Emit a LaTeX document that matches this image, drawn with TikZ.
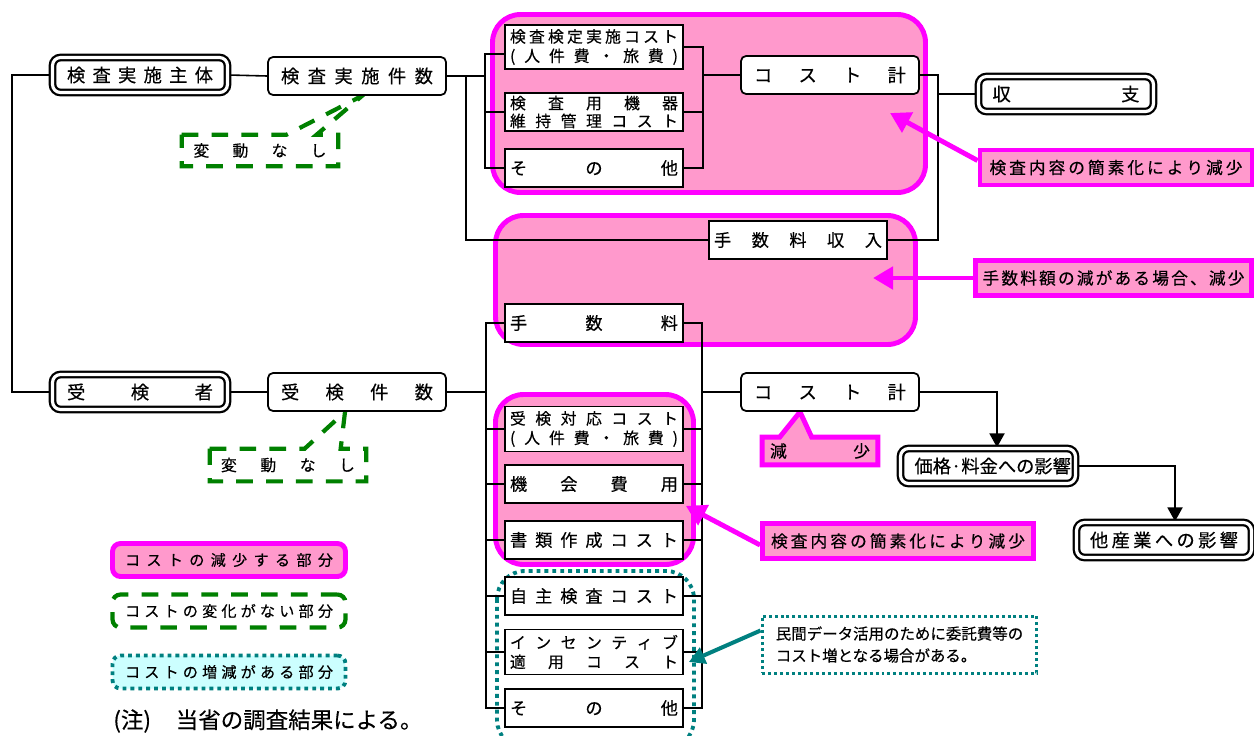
\documentclass[tikz,border=0pt]{standalone}
\usepackage{fontspec}
\setmainfont{Noto Sans CJK JP}[FakeBold=0.4]
\usepackage{tikz}
\usetikzlibrary{arrows.meta,positioning,calc}

\definecolor{cutpink}{HTML}{FF99CC}
\definecolor{cutedge}{HTML}{FF00FF}
\definecolor{samegreen}{HTML}{008000}
\definecolor{mixteal}{HTML}{008080}
\definecolor{mixcyan}{HTML}{CCFFFF}

\pgfdeclarelayer{back}
\pgfsetlayers{back,main}

% letters spread over a fixed width
\makeatletter
\newcommand\spreadtext[2]{\makebox[#1][s]{\spread@loop#2\relax}}
\def\spread@loop#1#2{#1\ifx\relax#2\expandafter\@gobble\else\hfill\expandafter\@firstofone\fi{\spread@loop#2}}
\makeatother

\begin{document}
\begin{tikzpicture}[
    x=0.02cm, y=-0.02cm,
    box/.style={draw, line width=1pt, fill=white, inner sep=0pt, minimum width=3.56cm, minimum height=0.76cm, font=\fontsize{9.8}{11}\selectfont},
    rbox/.style={box, rounded corners=0.1cm, font=\fontsize{10.4}{12}\selectfont},
    twobox/.style={box, align=center, minimum height=0.88cm, font=\fontsize{9}{11}\selectfont},
    dbox/.style={draw, line width=1.3pt, double, double distance=1.8pt, fill=white, rounded corners=0.16cm, inner sep=0pt, minimum width=3.5cm, minimum height=0.7cm, font=\fontsize{10.4}{12}\selectfont},
    cutline/.style={draw=cutedge, line width=2.8pt, fill=cutpink},
    region/.style={cutline, rounded corners=0.56cm},
    note/.style={cutline, inner sep=0pt, minimum height=0.7cm, font=\fontsize{9.5}{11}\selectfont},
    keep/.style={draw=samegreen, line width=2.4pt, dash pattern=on 9.5pt off 7.5pt},
    mix/.style={draw=mixteal, line width=2.2pt, dash pattern=on 2.2pt off 2.3pt},
    legbox/.style={rounded corners=0.16cm, inner sep=0pt, minimum width=4.66cm, minimum height=0.66cm, font=\fontsize{8.6}{10}\selectfont},
    calm/.style={inner sep=0pt, font=\fontsize{9}{10}\selectfont},
    conn/.style={line width=0.9pt},
    arr/.style={line width=1.1pt, -{Triangle[length=0.28cm, width=0.3cm]}},
    marr/.style={draw=cutedge, line width=2.8pt, -{Triangle[length=0.4cm, width=0.44cm]}},
    tarr/.style={draw=mixteal, line width=2.3pt, -{Triangle[length=0.32cm, width=0.34cm]}}
  ]
  \useasboundingbox (0,0) rectangle (1254,735);

  % inspecting side
  \node[dbox] (shutai) at (140,75) {\spreadtext{2.92cm}{検査実施主体}};
  \node[rbox] (kensu1) at (357,76) {\spreadtext{3.04cm}{検査実施件数}};
  \node[twobox] (costA) at (594,47) {\spreadtext{3.36cm}{検査検定実施コスト}\\\spreadtext{3.36cm}{(人件費・旅費)}};
  \node[twobox, minimum height=0.76cm, font=\fontsize{9}{10.2}\selectfont] (costB) at (594,112) {\spreadtext{3.36cm}{検査用機器}\\\spreadtext{3.36cm}{維持管理コスト}};
  \node[box] (costC) at (594,168) {\spreadtext{3.36cm}{その他}};
  \node[rbox] (total1) at (830,75) {\spreadtext{3.04cm}{コスト計}};
  \node[dbox] (shushi) at (1066,94) {\spreadtext{2.94cm}{収支}};
  \node[box] (feeIn) at (798,240) {\spreadtext{3.36cm}{手数料収入}};

  % inspected side
  \node[box] (fee) at (594,323) {\spreadtext{3.36cm}{手数料}};
  \node[dbox] (jukensha) at (140,392) {\spreadtext{2.92cm}{受検者}};
  \node[rbox] (kensu2) at (357,392) {\spreadtext{3.04cm}{受検件数}};
  \node[rbox] (total2) at (830,392) {\spreadtext{3.04cm}{コスト計}};
  \node[twobox, minimum height=0.9cm] (taio) at (594,429) {\spreadtext{3.36cm}{受検対応コスト}\\\spreadtext{3.36cm}{(人件費・旅費)}};
  \node[box] (kikai) at (594,484) {\spreadtext{3.36cm}{機会費用}};
  \node[box] (shorui) at (594,540) {\spreadtext{3.36cm}{書類作成コスト}};
  \node[box] (jishu) at (594,596) {\spreadtext{3.36cm}{自主検査コスト}};
  \node[twobox, minimum height=0.9cm] (incent) at (594,652) {\spreadtext{3.36cm}{インセンティブ}\\\spreadtext{3.36cm}{適用コスト}};
  \node[box] (other2) at (594,708) {\spreadtext{3.36cm}{その他}};
  \node[dbox] (kakaku) at (988,466) {\spreadtext{2.94cm}{価格·料金への影響}};
  \node[dbox] (tasangyo) at (1164,540) {\spreadtext{2.96cm}{他産業への影響}};

  % comments
  \node[note, minimum width=5.44cm] (note1) at (1116,167.5) {\spreadtext{5.06cm}{検査内容の簡素化により減少}};
  \node[note, minimum width=5.52cm] (note2) at (1113.5,278) {\spreadtext{5.24cm}{手数料額の減がある場合、減少}};
  \node[note, minimum width=5.42cm] (note3) at (898,541) {\spreadtext{5.08cm}{検査内容の簡素化により減少}};
  \node[calm, minimum width=2.3cm, minimum height=0.54cm, font=\fontsize{9.6}{11}\selectfont] (genshou) at (820,451) {\spreadtext{2cm}{減少}};
  \node[calm, minimum width=3.12cm, minimum height=0.62cm] (same1) at (260,150.5) {\spreadtext{2.66cm}{変動なし}};
  \node[calm, minimum width=3.12cm, minimum height=0.64cm] (same2) at (288,465) {\spreadtext{2.68cm}{変動なし}};
  \node[mix, line width=1.7pt, dash pattern=on 1.7pt off 1.7pt, minimum width=5.5cm, minimum height=1.14cm, inner sep=0pt, align=left, font=\fontsize{8.8}{12.5}\selectfont] (tnote) at (899.5,644.5) {民間データ活用のために委託費等の\\コスト増となる場合がある。};

  % legend
  \node[legbox, cutline] (leg1) at (229,560) {\spreadtext{4.16cm}{コストの減少する部分}};
  \node[legbox, keep] (leg2) at (229,611) {\spreadtext{4.16cm}{コストの変化がない部分}};
  \node[legbox, mix, fill=mixcyan] (leg3) at (229,672) {\spreadtext{4.16cm}{コストの増減がある部分}};
  \node[anchor=west, inner sep=0pt, font=\fontsize{12.8}{14}\selectfont] (remark) at (113,721) {(注)\hspace{1.1em}当省の調査結果による。};

  % junctions
  \coordinate (busA) at (485,76);
  \coordinate (busB) at (703,75);
  \coordinate (busC) at (466,76);
  \coordinate (busD) at (938,94);
  \coordinate (busE) at (486,392);
  \coordinate (busF) at (702,392);
  \coordinate (busG) at (12,75);
  \coordinate (tip1) at (890,113);
  \coordinate (tip2) at (873,278);

  \begin{pgfonlayer}{back}
    \draw[region] (492.5,14.5) rectangle (925.5,192.5);
    \draw[region] (495.5,215.5) rectangle (915.5,344.5);
    \draw[region] (495.5,394.5) rectangle (693.5,564.5);
    \draw[mix, rounded corners=0.56cm] (497,571) rectangle (694,748);

    \draw[cutline] (genshou.north west) -- ++(17.5,0) -- ([xshift=-0.6cm]total2.south) -- ($(genshou.north west)+(49.5,0)$) -- (genshou.north east) |- (genshou.south west) -- cycle;
    \draw[keep] (same1.north west) -- ++(105,0) -- ([xshift=0.1cm]kensu1.south) -- ($(same1.north west)+(135,0)$) -- (same1.north east) |- (same1.south west) -- cycle;
    \draw[keep] (same2.north west) -- ++(95,0) -- ([xshift=-0.24cm]kensu2.south) -- ($(same2.north west)+(131,0)$) -- (same2.north east) |- (same2.south west) -- cycle;

    \draw[conn] (shutai.east) -- (kensu1.west);
    \draw[conn] (shutai.west) -- (busG) |- (jukensha.west);
    \draw[conn] (jukensha.east) -- (kensu2.west);

    \draw[conn] (kensu1.east) -- (busA);
    \draw[conn] ([yshift=-0.14cm]costA.west) -| (busA |- costC.west) -- (costC.west);
    \draw[conn] (costB.west) -- (busA |- costB.west);
    \draw[conn] (busC) |- (feeIn.west);
    \draw[conn] (costA.east) -| (busB |- costC.east) -- (costC.east);
    \draw[conn] (costB.east) -- (busB |- costB.east);
    \draw[conn] (busB) -- (total1.west);
    \draw[conn] (total1.east) -| (busD |- feeIn.east) -- (feeIn.east);
    \draw[conn] (busD) -- (shushi.west);

    \draw[conn] (kensu2.east) -- (busE);
    \draw[conn] (fee.west) -| (busE |- other2.west) -- (other2.west);
    \draw[conn] (fee.east) -| (busF |- other2.east) -- (other2.east);
    \foreach \item in {taio,kikai,shorui,jishu,incent}
      \draw[conn] (\item.west) -- (busE |- \item.west) (\item.east) -- (busF |- \item.east);
    \draw[conn] (busF) -- (total2.west);

    \draw[arr] (total2.east) -| ([xshift=0.18cm]kakaku.north);
    \draw[arr] (kakaku.east) -| ([xshift=0.22cm]tasangyo.north);

    \draw[marr] ([yshift=0.14cm]note1.west) -- (tip1);
    \draw[marr] (note2.west) -- (tip2);
    \draw[marr] ([yshift=-0.08cm]note3.west) -- ([xshift=0.04cm,yshift=-0.04cm]kikai.south east);
    \draw[tarr] ([yshift=0.28cm]tnote.west) -- ([xshift=0.1cm,yshift=-0.2cm]incent.east);
  \end{pgfonlayer}
\end{tikzpicture}
\end{document}
